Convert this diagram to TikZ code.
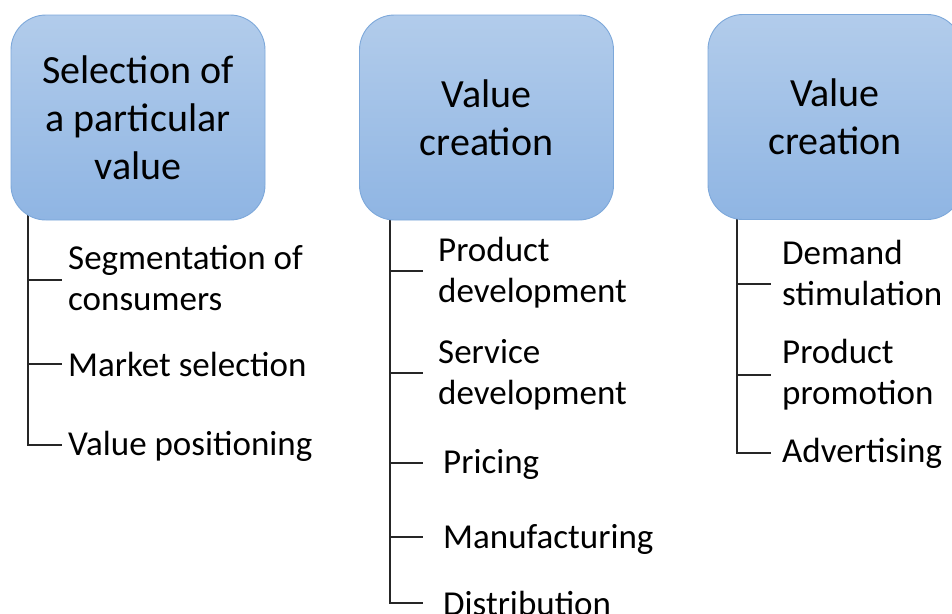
\documentclass[tikz,border=0pt]{standalone}
\usepackage{fontspec}
\setmainfont{Carlito}
\usetikzlibrary{backgrounds}
\definecolor{boxtop}{RGB}{178,204,235}
\definecolor{boxbot}{RGB}{143,181,227}
\definecolor{boxedge}{RGB}{125,168,218}
\tikzset{
  valbox/.style={draw=boxedge, line width=0.9pt, rounded corners=35pt,
    top color=boxtop, bottom color=boxbot, minimum width=254pt,
    minimum height=205pt, inner sep=0pt, align=center,
    font=\fontsize{40}{48}\selectfont},
  lab/.style={inner sep=0pt, align=left, anchor=base west,
    font=\fontsize{35}{41}\selectfont},
  tree/.style={line width=1.1pt, draw=black!85}
}
\begin{document}
\begin{tikzpicture}[x=1pt, y=-1pt]
\useasboundingbox (0,0) rectangle (952,613);
\clip (0,0) rectangle (952,613);

% heading boxes
\node[valbox] (b1) at (138,117.5) {Selection of\\a particular\\value};
\node[valbox] (b2) at (486.5,117.5) {Value\\creation};
\node[valbox] (b3) at (835,117) {Value\\creation};

% first column (base anchor sits on the last line of each label)
\node[lab] (l1a) at (68,310) {Segmentation of\\consumers};
\node[lab] (l1b) at (68,376) {Market selection};
\node[lab] (l1c) at (68,455) {Value positioning};
\coordinate (r1) at (28,200);
\coordinate (k1a) at (62,280);
\coordinate (k1b) at (62,364);
\coordinate (k1c) at (62,445);

% second column
\node[lab] (l2a) at (438,302) {Product\\development};
\node[lab] (l2b) at (438,404) {Service\\development};
\node[lab] (l2c) at (443,473) {Pricing};
\node[lab] (l2d) at (443,548) {Manufacturing};
\node[lab] (l2e) at (443,615) {Distribution};
\coordinate (r2) at (390,200);
\coordinate (k2a) at (423,271);
\coordinate (k2b) at (423,373);
\coordinate (k2c) at (423,463);
\coordinate (k2d) at (423,537);
\coordinate (k2e) at (423,603);

% third column
\node[lab] (l3a) at (782,305) {Demand\\stimulation};
\node[lab] (l3b) at (782,404) {Product\\promotion};
\node[lab] (l3c) at (782,462) {Advertising};
\coordinate (r3) at (737,200);
\coordinate (k3a) at (771,284);
\coordinate (k3b) at (771,375);
\coordinate (k3c) at (771,453);

% tree lines run behind the boxes
\begin{scope}[on background layer]
  \draw[tree] (r1) |- (k1c);
  \draw[tree] (k1a -| r1) -- (k1a);
  \draw[tree] (k1b -| r1) -- (k1b);
  \draw[tree] (r2) |- (k2e);
  \draw[tree] (k2a -| r2) -- (k2a);
  \draw[tree] (k2b -| r2) -- (k2b);
  \draw[tree] (k2c -| r2) -- (k2c);
  \draw[tree] (k2d -| r2) -- (k2d);
  \draw[tree] (r3) |- (k3c);
  \draw[tree] (k3a -| r3) -- (k3a);
  \draw[tree] (k3b -| r3) -- (k3b);
\end{scope}
\end{tikzpicture}
\end{document}
